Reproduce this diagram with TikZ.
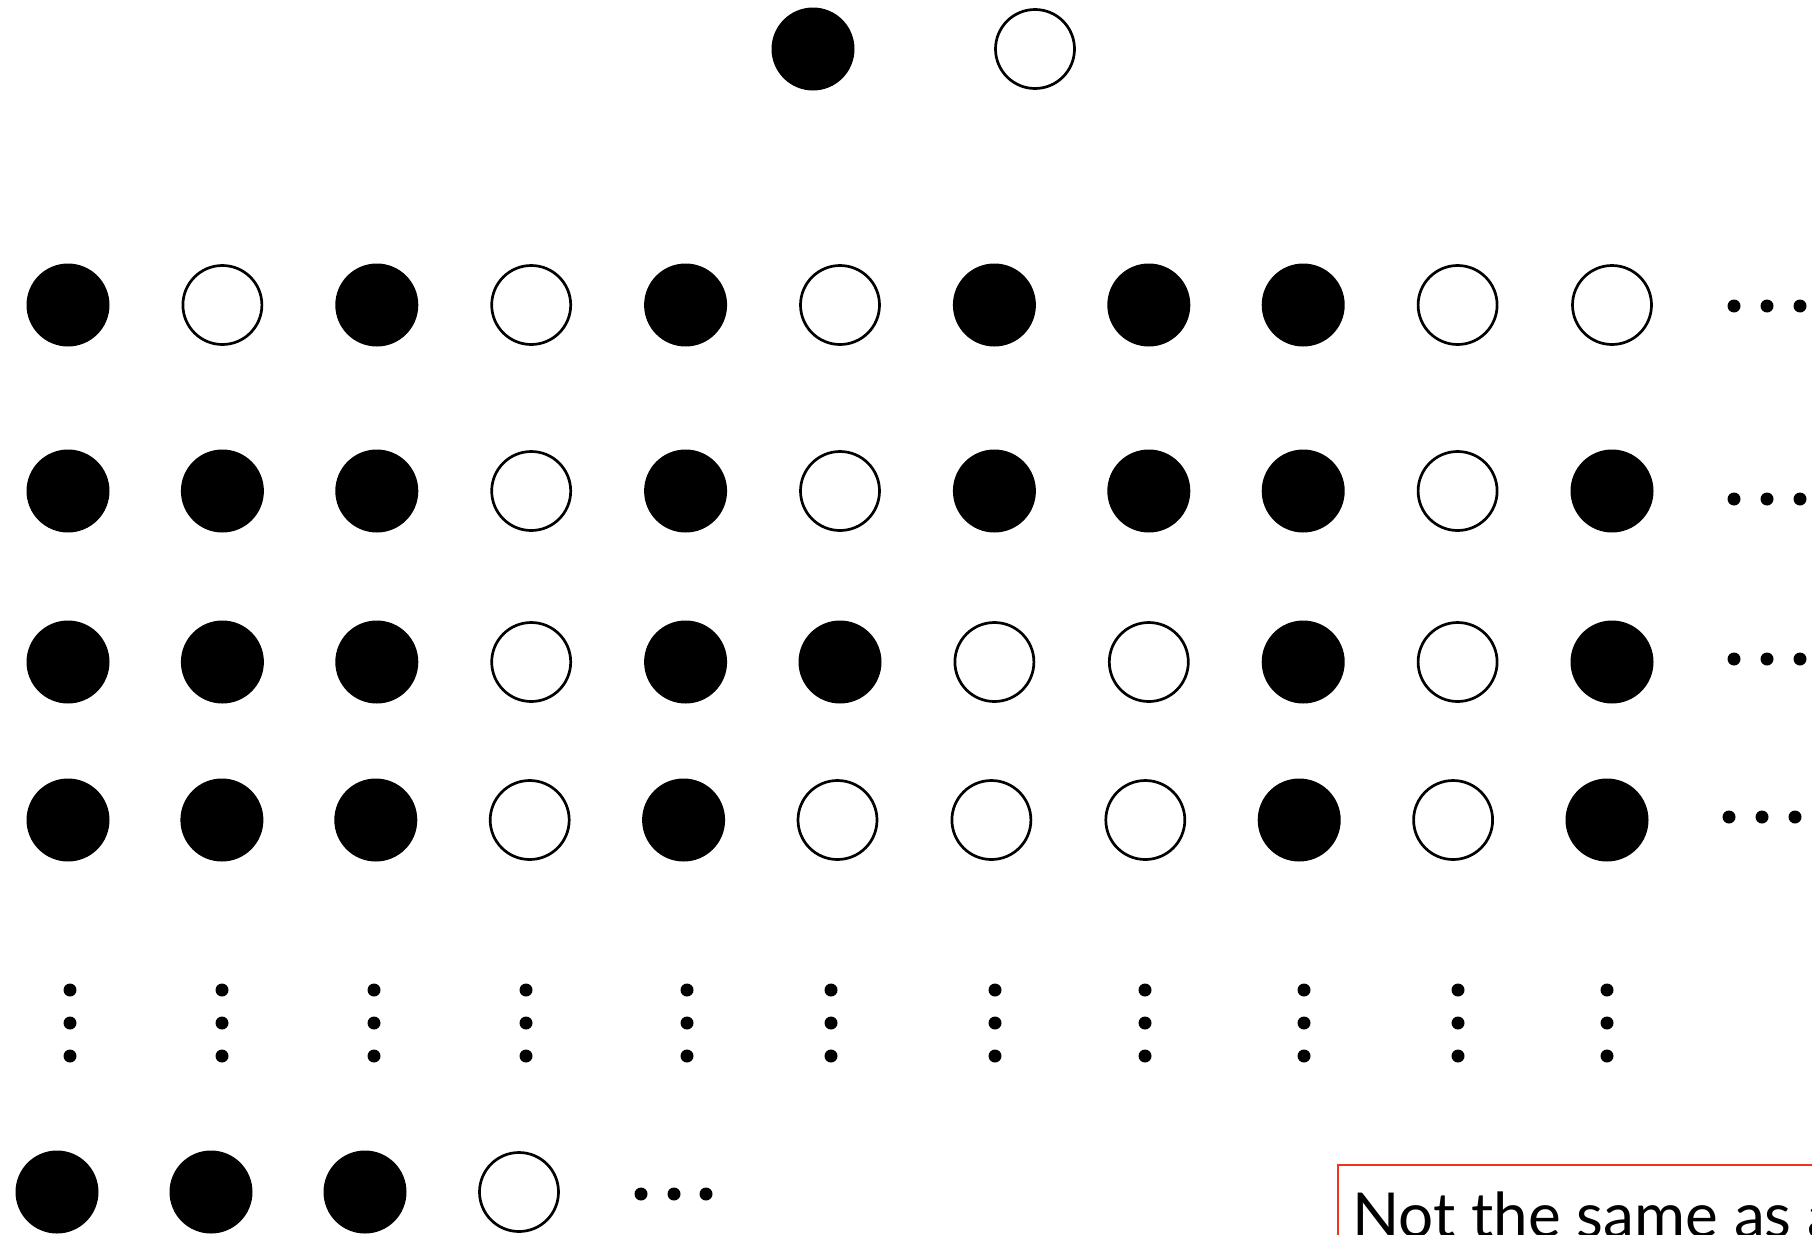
\documentclass[tikz,border=0pt]{standalone}
\usepackage{fontspec}
\setmainfont{Lato}
\usetikzlibrary{positioning}
\definecolor{boxred}{RGB}{238,52,28}

\begin{document}
\begin{tikzpicture}[
  x=1pt, y=-1pt,
  bead/.style={circle, fill=black, minimum size=83pt, inner sep=0pt},
  hole/.style={circle, draw=black, line width=2.7pt, minimum size=79pt, inner sep=0pt},
  pip/.style={circle, fill=black, minimum size=13pt, inner sep=0pt},
  callout/.style={draw=boxred, line width=2.6pt},
  note/.style={font=\fontsize{62}{70}\selectfont, anchor=base west, inner sep=0pt}
]
\useasboundingbox (0,0) rectangle (1812,1234);
\clip (0,0) rectangle (1812,1234);

% the two states
\node[bead] (up) at (813,49) {};
\node[hole] (down) at (1035,49) {};

% rows of sequences
\foreach \s [count=\c] in {bead,hole,bead,hole,bead,hole,bead,bead,bead,hole,hole}
  \node[\s] (a\c) at ({68+154.4*(\c-1)},305) {};
\foreach \s [count=\c] in {bead,bead,bead,hole,bead,hole,bead,bead,bead,hole,bead}
  \node[\s] (b\c) at ({68+154.4*(\c-1)},491) {};
\foreach \s [count=\c] in {bead,bead,bead,hole,bead,bead,hole,hole,bead,hole,bead}
  \node[\s] (c\c) at ({68+154.4*(\c-1)},662) {};
\foreach \s [count=\c] in {bead,bead,bead,hole,bead,hole,hole,hole,bead,hole,bead}
  \node[\s] (d\c) at ({68+153.9*(\c-1)},820) {};

% trailing dots
\foreach \y [count=\r] in {306,499,659}
  \foreach \x [count=\k] in {1734,1767,1800}
    \node[pip] (e\r-\k) at (\x,\y) {};
\foreach \x [count=\k] in {1729,1762,1795}
  \node[pip] (e4-\k) at (\x,817) {};

% vertical dots
\foreach \x [count=\c] in {70,222,374,526,687,831,995,1145,1304,1458,1607}
  \foreach \y [count=\k] in {990,1023,1056}
    \node[pip] (v\c-\k) at (\x,\y) {};

% last sequence
\foreach \s [count=\c] in {bead,bead,bead,hole}
  \node[\s] (z\c) at ({57+154*(\c-1)},1192) {};
\foreach \x [count=\k] in {641,674,706}
  \node[pip] (zd\k) at (\x,1194) {};

% remark box
\draw[callout] (1338,1165) rectangle (1900,1320);
\node[note] (remark) at (1352,1237) {Not the same as a};
\end{tikzpicture}
\end{document}
